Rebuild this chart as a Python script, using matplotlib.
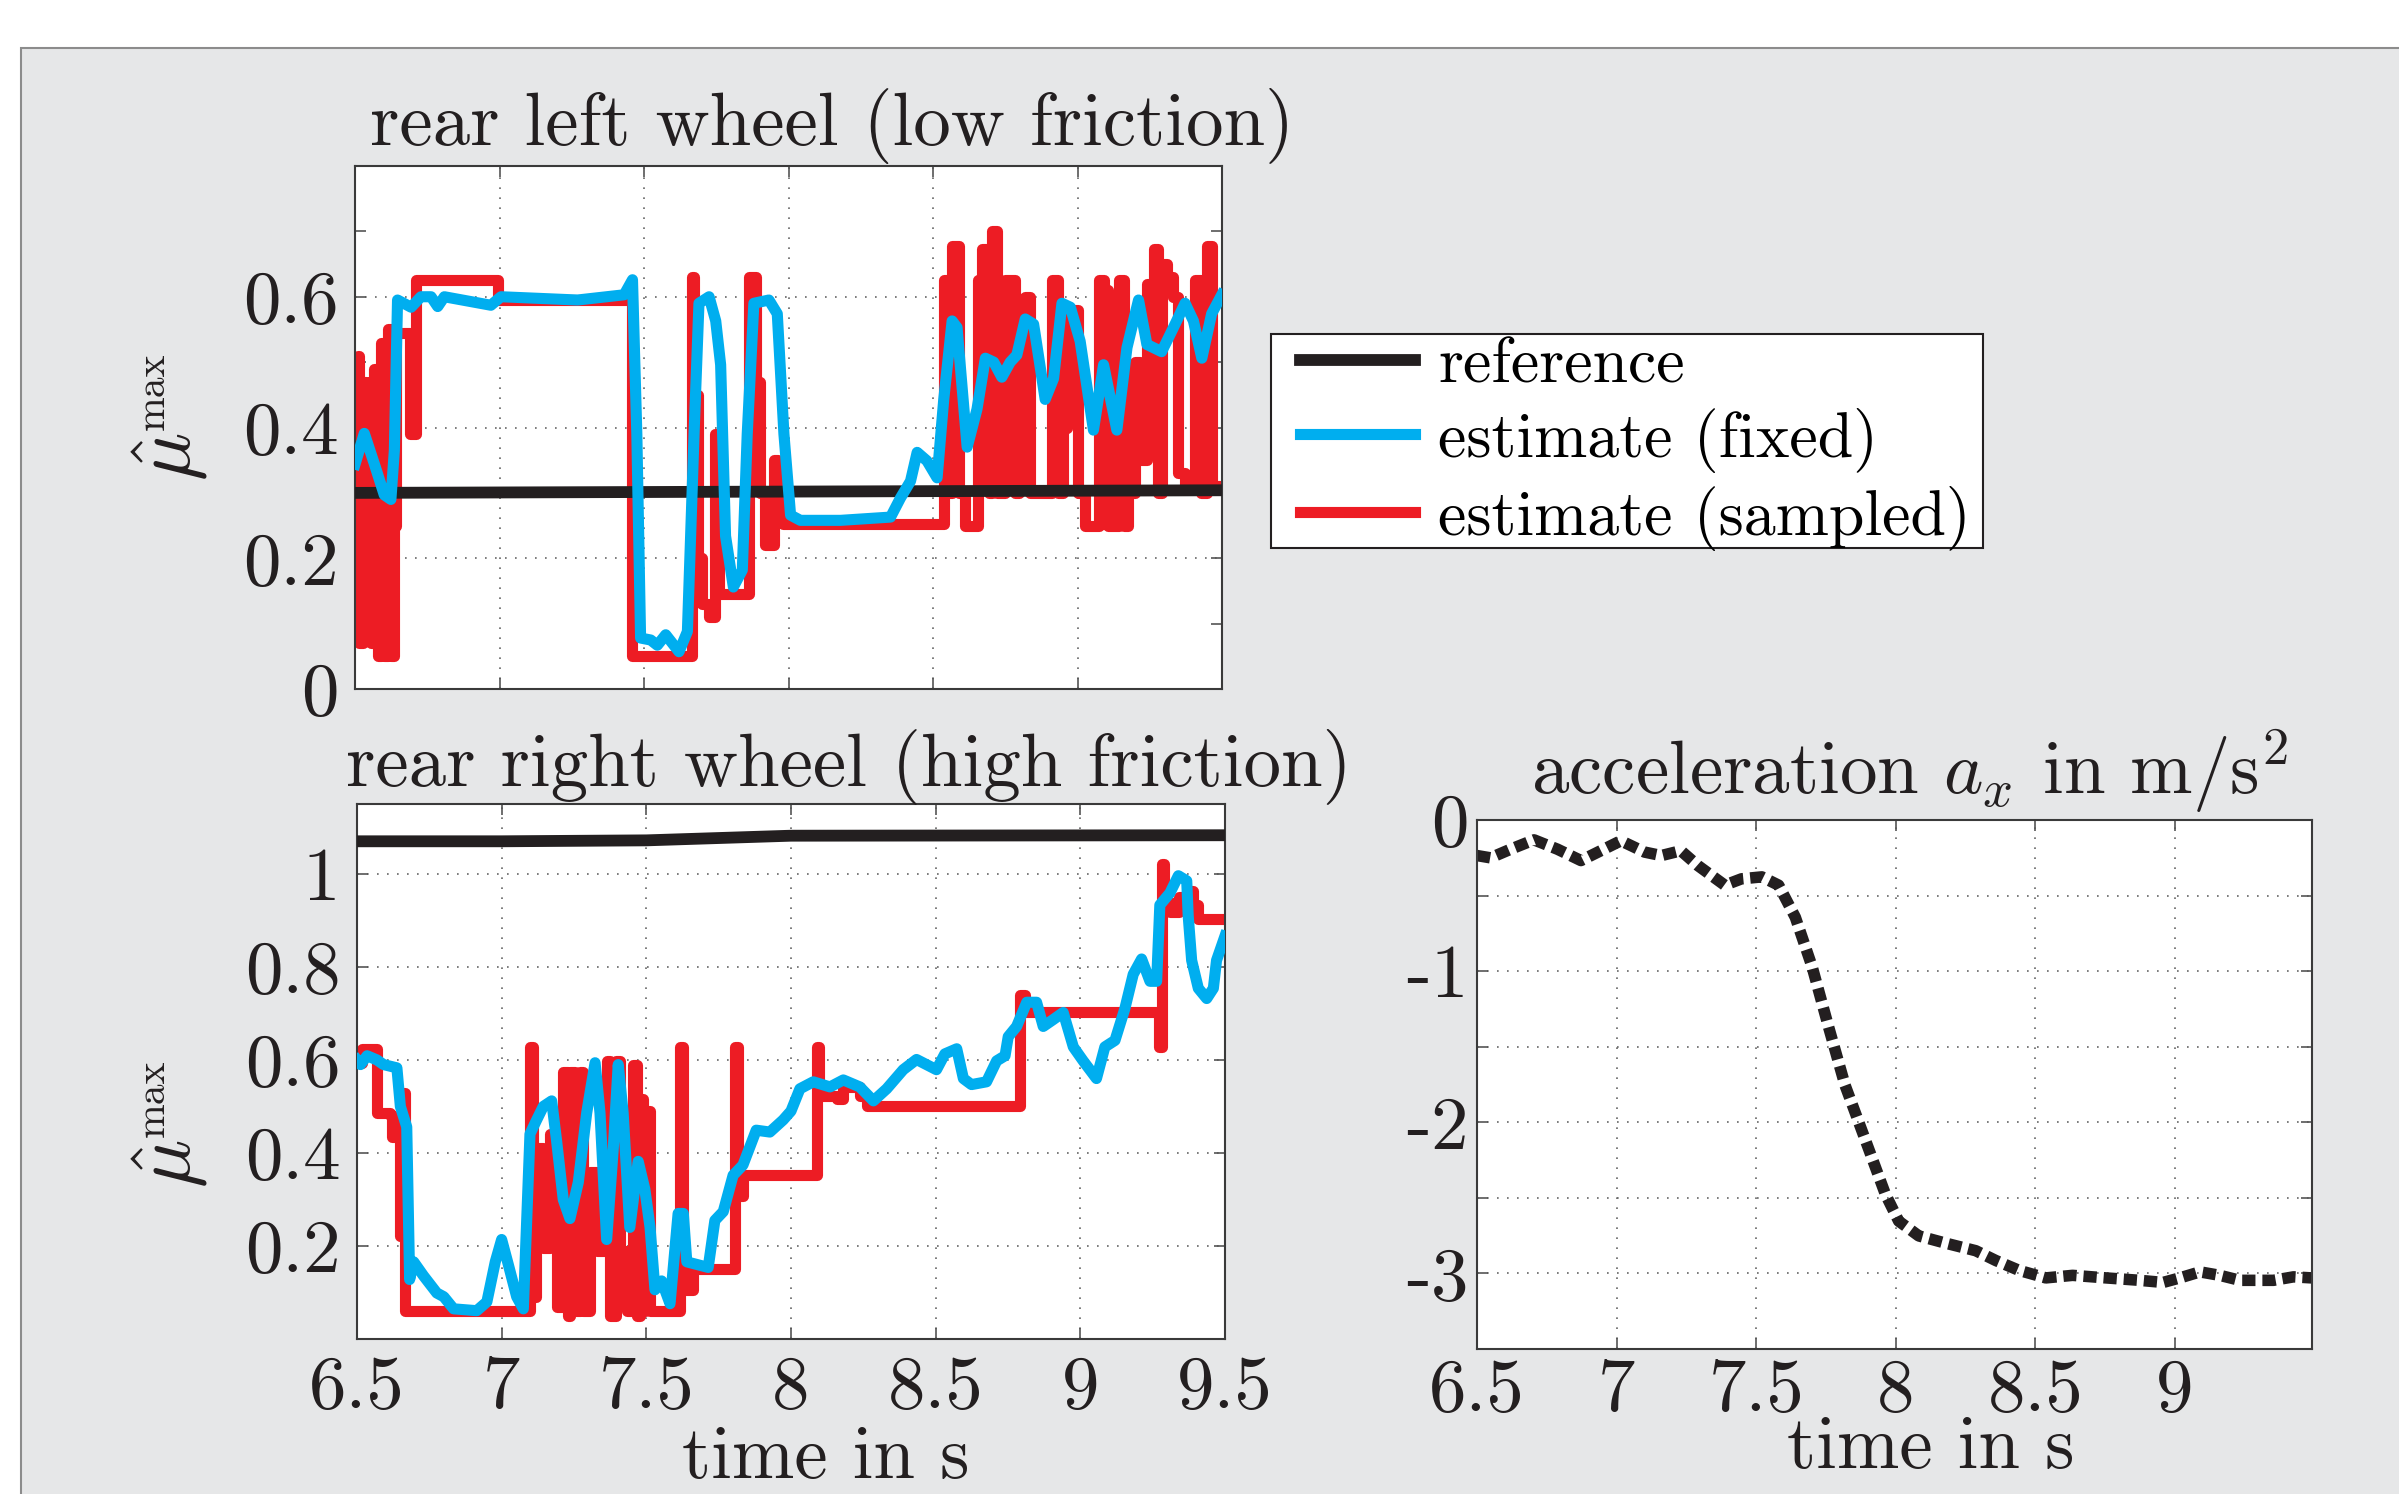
import matplotlib
matplotlib.use('Agg')
import matplotlib.pyplot as plt
from matplotlib.patches import Rectangle

plt.rcParams['font.family'] = 'cmr10'
plt.rcParams['mathtext.fontset'] = 'cm'
plt.rcParams['axes.unicode_minus'] = False
plt.rcParams['axes.formatter.use_mathtext'] = True

RED = '#ed1c24'
BLUE = '#00aeef'
BLACK = '#231f20'
BG = '#e6e7e8'
FS = 54
W, H = 2399, 1494

# ---- rear left wheel (low friction) ----
rl_ref_t = [6.5, 8.0, 9.5]
rl_ref_v = [0.300, 0.302, 0.304]

rl_fix_t = [6.500, 6.532, 6.567, 6.601, 6.624, 6.636, 6.647, 6.694, 6.728, 6.763, 6.786, 6.809,
            6.970, 7.005, 7.270, 7.431, 7.460, 7.475, 7.488, 7.523, 7.546, 7.575, 7.621, 7.650,
            7.673, 7.690, 7.725, 7.748, 7.765, 7.782, 7.809, 7.840, 7.857, 7.880, 7.932, 7.961,
            7.984, 8.007, 8.041, 8.180, 8.353, 8.387, 8.422, 8.445, 8.479, 8.514, 8.537, 8.566,
            8.583, 8.618, 8.652, 8.681, 8.710, 8.738, 8.767, 8.790, 8.819, 8.848, 8.888, 8.917,
            8.946, 8.975, 9.009, 9.055, 9.090, 9.136, 9.171, 9.211, 9.240, 9.291, 9.332, 9.372,
            9.401, 9.430, 9.464, 9.499]
rl_fix_v = [0.344, 0.391, 0.344, 0.297, 0.290, 0.365, 0.595, 0.584, 0.600, 0.600, 0.585, 0.600,
            0.587, 0.600, 0.595, 0.603, 0.626, 0.390, 0.078, 0.075, 0.067, 0.083, 0.057, 0.088,
            0.390, 0.590, 0.600, 0.563, 0.496, 0.234, 0.156, 0.182, 0.390, 0.590, 0.595, 0.574,
            0.390, 0.266, 0.258, 0.258, 0.263, 0.292, 0.318, 0.362, 0.349, 0.323, 0.443, 0.563,
            0.553, 0.370, 0.428, 0.506, 0.500, 0.477, 0.500, 0.511, 0.566, 0.558, 0.443, 0.475,
            0.590, 0.584, 0.532, 0.396, 0.496, 0.396, 0.522, 0.595, 0.527, 0.516, 0.553, 0.590,
            0.563, 0.506, 0.574, 0.603]

rl_smp_t = [6.500, 6.509, 6.515, 6.526, 6.538, 6.550, 6.555, 6.567, 6.578, 6.590, 6.601, 6.613,
            6.624, 6.634, 6.642, 6.690, 6.712, 6.993, 7.460, 7.667, 7.672, 7.685, 7.700, 7.725,
            7.745, 7.759, 7.863, 7.886, 7.900, 7.920, 7.949, 7.965, 7.980, 8.537, 8.554, 8.566,
            8.589, 8.612, 8.656, 8.669, 8.692, 8.704, 8.723, 8.750, 8.785, 8.796, 8.819, 8.836,
            8.911, 8.931, 8.949, 8.963, 9.003, 9.026, 9.073, 9.092, 9.107, 9.142, 9.161, 9.176,
            9.200, 9.217, 9.240, 9.263, 9.280, 9.291, 9.309, 9.332, 9.349, 9.372, 9.407, 9.426,
            9.447, 9.464, 9.500]
rl_smp_v = [0.340, 0.510, 0.070, 0.470, 0.100, 0.470, 0.070, 0.490, 0.050, 0.530, 0.050, 0.550,
            0.050, 0.250, 0.545, 0.390, 0.625, 0.595, 0.050, 0.630, 0.450, 0.200, 0.130, 0.110,
            0.390, 0.145, 0.630, 0.470, 0.300, 0.220, 0.350, 0.300, 0.253, 0.626, 0.300, 0.678,
            0.300, 0.250, 0.626, 0.673, 0.300, 0.700, 0.300, 0.626, 0.300, 0.350, 0.600, 0.300,
            0.626, 0.300, 0.400, 0.580, 0.300, 0.250, 0.626, 0.610, 0.250, 0.626, 0.250, 0.300,
            0.500, 0.350, 0.620, 0.673, 0.300, 0.650, 0.630, 0.600, 0.330, 0.310, 0.626, 0.300,
            0.678, 0.310, 0.310]

# ---- rear right wheel (high friction) ----
rr_ref_t = [6.5, 7.0, 7.5, 7.8, 8.0, 9.5]
rr_ref_v = [1.070, 1.070, 1.072, 1.078, 1.082, 1.083]

rr_fix_t = [6.500, 6.512, 6.535, 6.569, 6.592, 6.638, 6.650, 6.672, 6.682, 6.696, 6.730, 6.776,
            6.800, 6.834, 6.914, 6.949, 6.978, 7.000, 7.024, 7.052, 7.075, 7.098, 7.121, 7.144,
            7.173, 7.190, 7.213, 7.236, 7.265, 7.294, 7.323, 7.340, 7.363, 7.386, 7.403, 7.420,
            7.443, 7.472, 7.495, 7.513, 7.530, 7.553, 7.582, 7.610, 7.628, 7.640, 7.714, 7.737,
            7.766, 7.800, 7.834, 7.880, 7.927, 7.973, 8.000, 8.031, 8.077, 8.135, 8.181, 8.238,
            8.285, 8.331, 8.388, 8.434, 8.503, 8.532, 8.573, 8.596, 8.624, 8.676, 8.711, 8.740,
            8.751, 8.780, 8.815, 8.849, 8.872, 8.907, 8.941, 8.976, 9.010, 9.056, 9.085, 9.120,
            9.154, 9.183, 9.212, 9.241, 9.264, 9.275, 9.310, 9.339, 9.368, 9.373, 9.385, 9.408,
            9.437, 9.460, 9.471, 9.500]
rr_fix_v = [0.600, 0.590, 0.609, 0.600, 0.590, 0.583, 0.500, 0.456, 0.128, 0.166, 0.136, 0.099,
            0.091, 0.065, 0.061, 0.080, 0.166, 0.214, 0.158, 0.091, 0.065, 0.441, 0.471, 0.500,
            0.512, 0.426, 0.300, 0.259, 0.337, 0.486, 0.594, 0.486, 0.214, 0.411, 0.590, 0.486,
            0.240, 0.382, 0.322, 0.240, 0.106, 0.125, 0.076, 0.270, 0.270, 0.166, 0.154, 0.255,
            0.274, 0.352, 0.374, 0.449, 0.445, 0.471, 0.490, 0.538, 0.553, 0.542, 0.557, 0.542,
            0.512, 0.538, 0.579, 0.601, 0.579, 0.613, 0.624, 0.560, 0.547, 0.553, 0.598, 0.609,
            0.650, 0.672, 0.724, 0.724, 0.672, 0.687, 0.702, 0.628, 0.598, 0.560, 0.628, 0.642,
            0.710, 0.784, 0.817, 0.769, 0.769, 0.933, 0.959, 0.996, 0.985, 0.910, 0.814, 0.754,
            0.732, 0.754, 0.814, 0.866]

rr_smp_t = [6.500, 6.517, 6.569, 6.615, 6.620, 6.650, 6.658, 6.667, 7.098, 7.108, 7.120, 7.144,
            7.167, 7.190, 7.213, 7.230, 7.236, 7.253, 7.270, 7.282, 7.305, 7.328, 7.363, 7.374,
            7.397, 7.409, 7.432, 7.455, 7.467, 7.478, 7.490, 7.495, 7.513, 7.616, 7.628, 7.660,
            7.806, 7.818, 7.835, 8.089, 8.098, 8.158, 8.181, 8.238, 8.262, 8.791, 8.808, 9.272,
            9.282, 9.290, 9.310, 9.340, 9.370, 9.390, 9.408, 9.500]
rr_smp_v = [0.594, 0.624, 0.486, 0.482, 0.434, 0.222, 0.530, 0.060, 0.628, 0.090, 0.410, 0.195,
            0.440, 0.070, 0.575, 0.050, 0.575, 0.060, 0.575, 0.060, 0.360, 0.190, 0.598, 0.050,
            0.598, 0.190, 0.060, 0.590, 0.050, 0.516, 0.060, 0.490, 0.060, 0.628, 0.106, 0.151,
            0.628, 0.307, 0.352, 0.628, 0.523, 0.515, 0.542, 0.523, 0.500, 0.739, 0.702, 0.628,
            1.022, 0.940, 0.918, 0.950, 0.963, 0.933, 0.903, 0.903]

# ---- acceleration a_x ----
acc_t = [6.500, 6.548, 6.620, 6.704, 6.788, 6.872, 6.943, 7.015, 7.100, 7.160, 7.230, 7.290,
         7.387, 7.447, 7.520, 7.580, 7.640, 7.700, 7.758, 7.818, 7.890, 7.962, 8.010, 8.082,
         8.178, 8.286, 8.358, 8.441, 8.537, 8.633, 8.753, 8.873, 8.957, 9.017, 9.089, 9.160,
         9.232, 9.352, 9.424, 9.490]
acc_v = [-0.235, -0.250, -0.193, -0.131, -0.193, -0.268, -0.203, -0.137, -0.212, -0.235, -0.203, -0.300,
         -0.431, -0.389, -0.376, -0.431, -0.644, -0.971, -1.363, -1.755, -2.114, -2.474, -2.654, -2.752,
         -2.800, -2.850, -2.915, -2.980, -3.030, -3.013, -3.030, -3.046, -3.060, -3.030, -2.990, -3.013,
         -3.046, -3.046, -3.023, -3.030]

time_ticks = [6.5, 7, 7.5, 8, 8.5, 9, 9.5]
time_labels = ['6.5', '7', '7.5', '8', '8.5', '9', '9.5']
legend_labels = ['reference', 'estimate (fixed)', 'estimate (sampled)']


def style(ax):
    ax.set_facecolor('white')
    for s in ax.spines.values():
        s.set_color('#3a3a3a')
        s.set_linewidth(1.5)
    ax.tick_params(which='both', direction='in', top=True, right=True, length=8, width=1.2,
                   color='#555555', labelcolor=BLACK, labelsize=FS, pad=12)
    ax.grid(True, which='major', linestyle=(0, (1, 5)), color='#666666', linewidth=1.2)
    ax.set_axisbelow(True)


def mu_label(fig, px, py):
    # hat-mu with a small upright "max" superscript, rotated; px, py in picture pixels
    fig.text(px / W, 1 - py / H, r'$\hat{\mu}$', rotation=90, fontsize=58,
             ha='center', va='center', color=BLACK)
    fig.text((px - 17) / W, 1 - (py - 66) / H, 'max', rotation=90, fontsize=30,
             ha='center', va='center', color=BLACK)


fig = plt.figure(figsize=(W / 100, H / 100), dpi=100)
fig.patch.set_facecolor('white')
fig.add_artist(Rectangle((0.00875, -0.01), 1.0, 0.978, transform=fig.transFigure,
                         facecolor=BG, edgecolor='#8c8c8c', lw=1.5, zorder=-10))

lw = 8.0

# top left
ax1 = fig.add_axes([0.148, 0.5388, 0.3614, 0.3501])
style(ax1)
l_smp, = ax1.plot(rl_smp_t, rl_smp_v, color=RED, lw=lw, drawstyle='steps-post', zorder=2)
l_ref, = ax1.plot(rl_ref_t, rl_ref_v, color=BLACK, lw=8.5, zorder=3)
l_fix, = ax1.plot(rl_fix_t, rl_fix_v, color=BLUE, lw=lw, zorder=4)
ax1.set_xlim(6.5, 9.5)
ax1.set_ylim(0, 0.8)
ax1.set_xticks(time_ticks)
ax1.set_xticklabels([])
ax1.set_yticks([0, 0.2, 0.4, 0.6])
ax1.set_yticklabels(['0', '0.2', '0.4', '0.6'])
ax1.set_yticks([0.1, 0.3, 0.5, 0.7], minor=True)
ax1.text(0.55, 1.04, 'rear left wheel (low friction)', transform=ax1.transAxes,
         ha='center', va='baseline', fontsize=FS, color=BLACK)
mu_label(fig, 170, 457)

# bottom left
ax2 = fig.add_axes([0.1488, 0.1037, 0.3618, 0.3581])
style(ax2)
ax2.plot(rr_smp_t, rr_smp_v, color=RED, lw=lw, drawstyle='steps-post', zorder=2)
ax2.plot(rr_ref_t, rr_ref_v, color=BLACK, lw=8.5, zorder=3)
ax2.plot(rr_fix_t, rr_fix_v, color=BLUE, lw=lw, zorder=4)
ax2.set_xlim(6.5, 9.5)
ax2.set_ylim(0, 1.15)
ax2.set_xticks(time_ticks)
ax2.set_xticklabels(time_labels)
ax2.set_yticks([0.2, 0.4, 0.6, 0.8, 1.0])
ax2.set_yticklabels(['0.2', '0.4', '0.6', '0.8', '1'])
ax2.set_xlabel('time in s', fontsize=FS, color=BLACK)
ax2.xaxis.set_label_coords(0.54, -0.162)
ax2.text(0.567, 1.034, 'rear right wheel (high friction)', transform=ax2.transAxes,
         ha='center', va='baseline', fontsize=FS, color=BLACK)
mu_label(fig, 170, 1164)

# right: acceleration
ax3 = fig.add_axes([0.6157, 0.0971, 0.348, 0.354])
style(ax3)
ax3.plot(acc_t, acc_v, color=BLACK, lw=8.3, linestyle=(0, (1.15, 0.6)))
ax3.set_xlim(6.5, 9.49)
ax3.set_ylim(-3.5, 0)
ax3.set_xticks(time_ticks[:-1])
ax3.set_xticklabels(time_labels[:-1])
ax3.set_yticks([0, -0.5, -1, -1.5, -2, -2.5, -3, -3.5])
ax3.set_yticklabels(['0', '', '-1', '', '-2', '', '-3', ''])
ax3.tick_params(axis='y', pad=6)
ax3.tick_params(axis='x', pad=7)
ax3.set_xlabel('time in s', fontsize=FS, color=BLACK)
ax3.xaxis.set_label_coords(0.544, -0.125)
ax3.text(0.518, 1.049, r'acceleration $a_x$ in m/s$^2$', transform=ax3.transAxes,
         ha='center', va='baseline', fontsize=FS, color=BLACK)

# legend with a plain square box
fig.add_artist(Rectangle((0.5298, 0.6332), 0.2968, 0.1432, transform=fig.transFigure,
                         facecolor='white', edgecolor=BLACK, lw=1.5, zorder=4))
fig.legend([l_ref, l_fix, l_smp], legend_labels,
           loc='upper left', bbox_to_anchor=(0.5419, 0.7744), borderaxespad=0,
           fontsize=46, handlelength=1.8, handletextpad=0.36, borderpad=0,
           labelspacing=0.2, frameon=False)

fig.savefig('out.png', dpi=100, facecolor='white')
